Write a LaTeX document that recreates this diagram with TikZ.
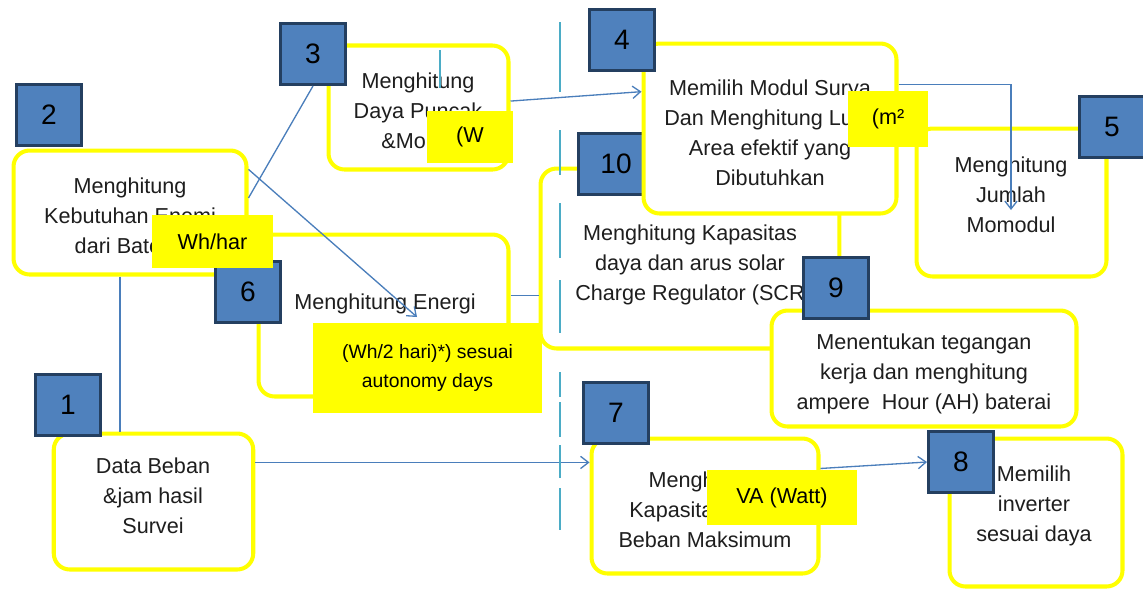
\documentclass[tikz,border=0pt]{standalone}
\usepackage{fontspec}
\setmainfont{Liberation Sans}
\usetikzlibrary{arrows.meta}

\definecolor{kuning}{RGB}{255,255,0}
\definecolor{biru}{RGB}{79,129,189}
\definecolor{birutua}{RGB}{36,63,96}
\definecolor{garis}{RGB}{74,126,187}
\definecolor{bantu}{RGB}{75,172,198}
\definecolor{tinta}{RGB}{30,30,30}

\tikzset{
  tahap/.style={draw=kuning, line width=2.3pt, fill=white, rounded corners=0.32cm},
  teks/.style={align=center, text=tinta, inner sep=0pt, font=\fontsize{12.3}{17}\selectfont},
  nomor/.style={draw=birutua, fill=biru, line width=1.7pt, minimum width=1.30cm,
    minimum height=1.22cm, font=\fontsize{16}{19}\selectfont},
  satuan/.style={fill=kuning, inner sep=0pt, align=center, font=\fontsize{12.3}{17}\selectfont},
  alur/.style={draw=garis, line width=0.75pt},
  petunjuk/.style={draw=bantu, line width=0.6pt}
}

\begin{document}
\begin{tikzpicture}[x=0.02cm,y=-0.02cm,>={Straight Barb[length=4.5pt,width=7pt]}]

  \path[use as bounding box, fill=white] (0,0) rectangle (1143,593);

  % langkah 2, 3, 6
  \node[tahap, minimum width=4.66cm, minimum height=2.48cm] (k2) at (130,212.5) {};
  \node[teks] (t2) at (130,216) {Menghitung\\Kebutuhan Enemi\\dari Bate\phantom{rai}};
  \node[nomor] (b2) at (49,115) {2};

  \node[tahap, minimum width=3.60cm, minimum height=2.48cm] (k3) at (418.5,107.5) {};
  \node[teks] (t3) at (418,111) {Menghitung\\Daya Puncak\\\&Mo\phantom{dul}};
  \node[nomor] (b3) at (313,54) {3};

  \node[tahap, minimum width=5.00cm, minimum height=3.24cm] (k6) at (383.5,315.5) {};
  \node[teks] (t6) at (385,304) {Menghitung Energi};
  \node[nomor] (b6) at (248,292) {6};

  % langkah 1
  \node[tahap, minimum width=3.99cm, minimum height=2.72cm] (k1) at (153.5,501.5) {};
  \node[teks] (t1) at (153,496) {Data Beban\\\&jam hasil\\Survei};
  \node[nomor] (b1) at (68,405) {1};

  % langkah 10, 4, 5
  \node[tahap, minimum width=5.98cm, minimum height=3.60cm] (k10) at (690,258.5) {};
  \node[teks] (t10) at (690,265) {Menghitung Kapasitas\\daya dan arus solar\\Charge Regulator (SCR};
  \node[nomor, minimum width=1.52cm] (b10) at (616,164) {10};

  \node[tahap, minimum width=5.06cm, minimum height=3.40cm] (k4) at (770,128.5) {};
  \node[teks] (t4) at (770,133) {Memilih Modul Surya\\Dan Menghitung Lu\phantom{as}\\Area efektif yang\\Dibutuhkan};
  \node[nomor] (b4) at (622,40) {4};

  \node[tahap, minimum width=3.80cm, minimum height=2.96cm] (k5) at (1011.5,202.5) {};
  \node[teks] (t5) at (1011,195) {Menghitung\\Jumlah\\Momodul};
  \node[nomor] (b5) at (1112,127) {5};

  % langkah 9, 7, 8
  \node[tahap, minimum width=6.10cm, minimum height=2.32cm] (k9) at (924,368.5) {};
  \node[teks] (t9) at (924,374) {Menentukan tegangan\\kerja dan menghitung\\ampere\ \ Hour (AH) baterai};
  \node[nomor] (b9) at (836,288) {9};

  \node[tahap, minimum width=4.54cm, minimum height=2.70cm] (k7) at (705,506) {};
  \node[teks] (t7) at (705,510) {Menghitung\\Kapasita\phantom{s Daya}\\Beban Maksimum};
  \node[nomor] (b7) at (616,413) {7};

  \node[tahap, minimum width=3.46cm, minimum height=2.96cm] (k8) at (1036,512.5) {};
  \node[teks] (t8) at (1034,506) {Memilih\\inverter\\sesuai daya};
  \node[nomor] (b8) at (961,462) {8};

  % satuan yang menutupi teks
  \node[satuan, minimum width=2.42cm, minimum height=1.06cm] (s2) at (212.5,241.5) {Wh/har};
  \node[satuan, minimum width=1.72cm, minimum height=1.04cm] (s3) at (470,137) {(W};
  \node[satuan, minimum width=1.60cm, minimum height=1.12cm] (s4) at (888,119) {(m²};
  \node[satuan, minimum width=4.58cm, minimum height=1.80cm, font=\fontsize{11}{17}\selectfont]
    (s6) at (427.5,368) {(Wh/2 hari)*) sesuai\\autonomy days};
  \node[satuan, minimum width=3.00cm, minimum height=1.10cm] (s7) at (782,497.5) {VA (Watt)};

  \coordinate (u6) at (417,317);
  \coordinate (u5) at (1011,210);

  % alur
  \draw[alur] (k2.7.6) -- (b3.south);
  \draw[alur,->] (k2.20.9) -- (u6);
  \draw[alur] (k2.261.7) -- (k2.261.7 |- k1.north);
  \draw[alur,->] (k3.4.8) -- (k4.164.3);
  \draw[alur,->] (k4.19.4) -| (u5);
  \draw[alur] (k6.9.8) -- (k6.9.8 -| k10.west);
  \draw[alur,->] (k1.21.2) -- (k1.21.2 -| k7.west);
  \draw[alur,->] (k7.18.5) -- (b8.west);

  % garis bantu
  \draw[petunjuk] (560,22) -- (560,92) (560,130) -- (560,175) (560,203) -- (560,258)
    (560,280) -- (560,333) (560,372) -- (560,397) (560,402) -- (560,437)
    (560,445) -- (560,478) (560,488) -- (560,530) (440,50) -- (440,88);

\end{tikzpicture}
\end{document}
